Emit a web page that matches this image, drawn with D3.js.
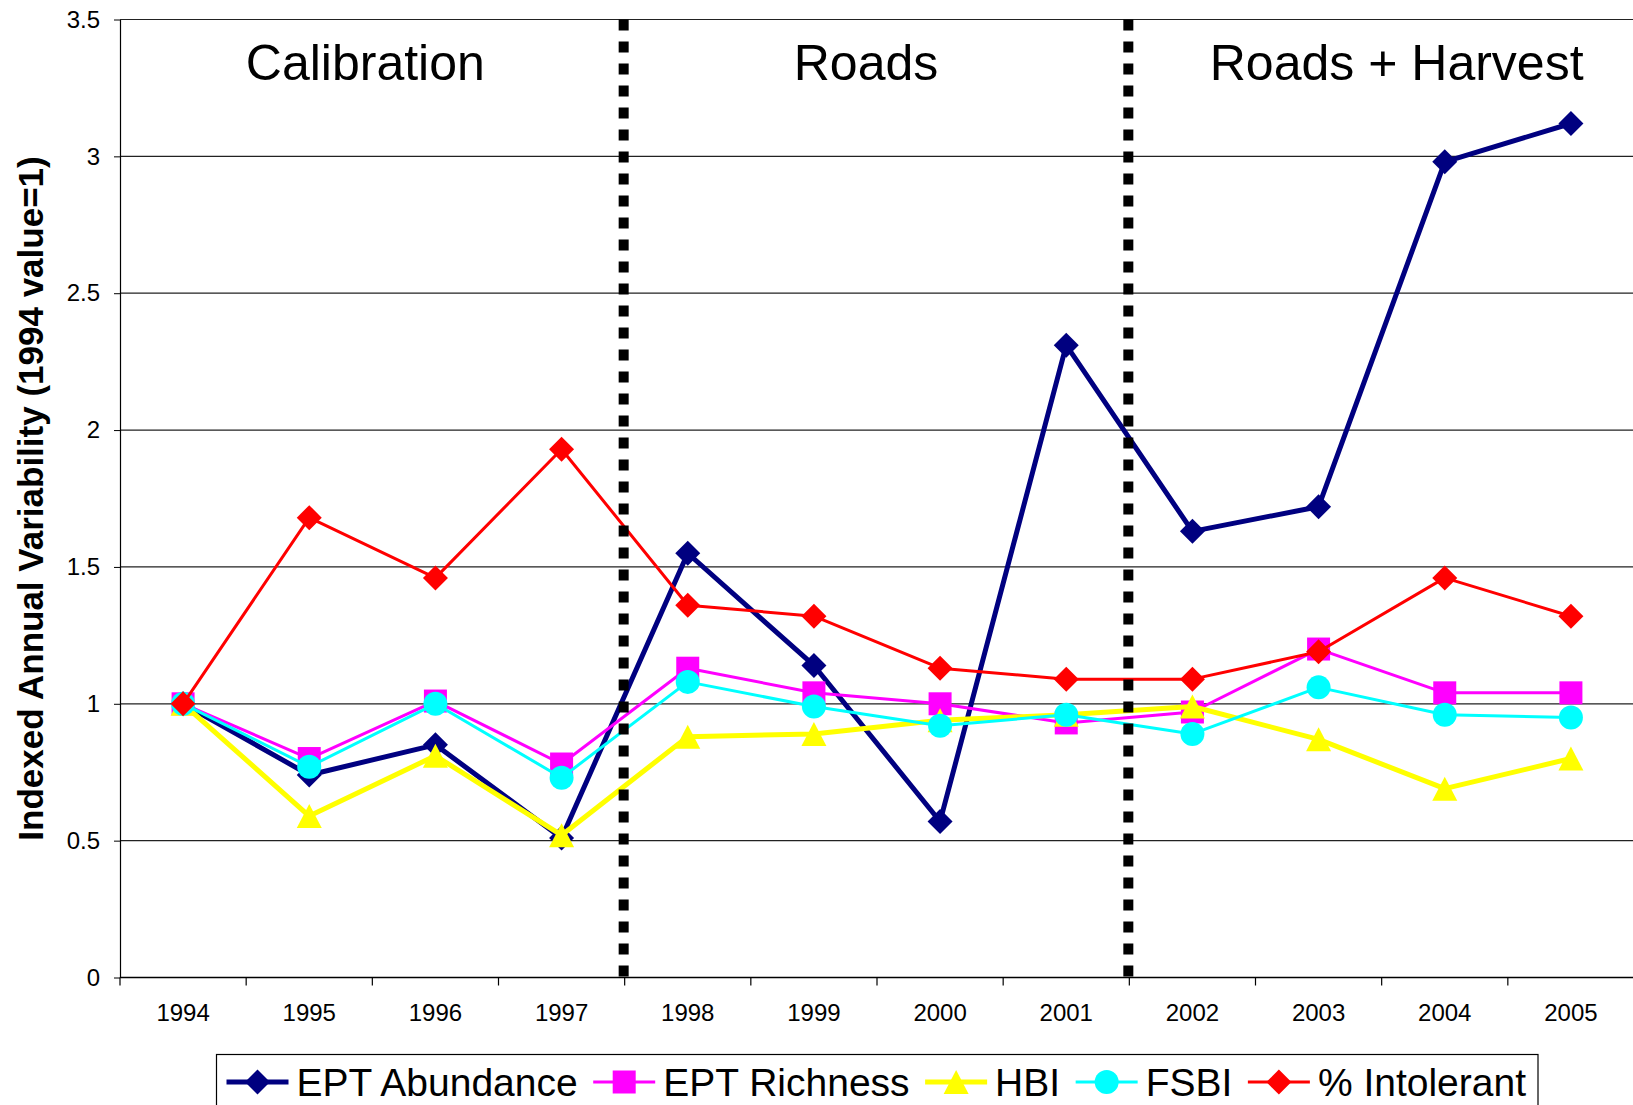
<!DOCTYPE html>
<html>
<head>
<meta charset="utf-8">
<script src="https://cdn.jsdelivr.net/npm/d3@7"></script>
<style>
    body { margin: 0; background: #fff; }
    svg text { font-family: "Liberation Sans", Arial, sans-serif; }
</style>
</head>
<body>
<div id="LineChart"></div>
<script>
// data
var years = ["1994", "1995", "1996", "1997", "1998", "1999", "2000", "2001", "2002", "2003", "2004", "2005"];
var eptAbundance = [1.00, 0.74, 0.85, 0.51, 1.55, 1.14, 0.57, 2.31, 1.63, 1.72, 2.98, 3.12];
var eptRichness = [1.00, 0.80, 1.01, 0.78, 1.13, 1.04, 1.00, 0.93, 0.97, 1.20, 1.04, 1.04];
var hbi = [1.00, 0.59, 0.81, 0.52, 0.88, 0.89, 0.94, 0.96, 0.99, 0.87, 0.69, 0.80];
var fsbi = [1.00, 0.77, 1.00, 0.73, 1.08, 0.99, 0.92, 0.96, 0.89, 1.06, 0.96, 0.95];
var intolerant = [1.00, 1.68, 1.46, 1.93, 1.36, 1.32, 1.13, 1.09, 1.09, 1.19, 1.46, 1.32];
var yTicks = [0, 0.5, 1, 1.5, 2, 2.5, 3, 3.5];
var periods = ["Calibration", "Roads", "Roads + Harvest"];
var periodStarts = ["1994", "1998", "2002"];
var periodEnds = ["1997", "2001", "2005"];

var series = [
    { name: "EPT Abundance", values: eptAbundance, color: "#000080", width: 5, shape: "diamond" },
    { name: "EPT Richness", values: eptRichness, color: "#ff00ff", width: 3, shape: "square" },
    { name: "HBI", values: hbi, color: "#ffff00", width: 5, shape: "triangle" },
    { name: "FSBI", values: fsbi, color: "#00ffff", width: 3, shape: "circle" },
    { name: "% Intolerant", values: intolerant, color: "#ff0000", width: 3, shape: "diamond" }
];

var margin = { top: 19.5, right: 0, bottom: 127.5, left: 120 },
    width = 1514,
    height = 1105 - margin.top - margin.bottom;

var svg = d3.select("#LineChart")
    .append("svg")
    .attr("width", 1633)
    .attr("height", 1105);

var chart = svg.append("g")
    .attr("transform", "translate(" + margin.left + "," + margin.top + ")");

var xScale = d3.scaleBand()
    .domain(years)
    .range([0, width])
    .padding(0);

var yScale = d3.scaleLinear()
    .domain([0, 3.5])
    .range([height, 0]);

function cx(i) { return xScale(years[i]) + xScale.bandwidth() / 2; }

function markerPath(shape) {
    if (shape == "diamond") return "M0,-12.5L12.5,0L0,12.5L-12.5,0Z";
    if (shape == "square") return "M-11.5,-11.5H11.5V11.5H-11.5Z";
    if (shape == "triangle") return "M0,-12L12.5,12H-12.5Z";
    return d3.symbol().type(d3.symbolCircle).size(Math.PI * 12 * 12)();
}

// gridlines
chart.selectAll(".grid")
    .data(yTicks)
    .enter()
    .append("line")
    .attr("class", "grid")
    .attr("x1", 0)
    .attr("x2", width)
    .attr("y1", function (d) { return yScale(d); })
    .attr("y2", function (d) { return yScale(d); })
    .attr("stroke", "#222")
    .attr("stroke-width", 1.2);

// y axis
var yAxis = chart.append("g")
    .call(d3.axisLeft(yScale).tickValues(yTicks).tickSize(6).tickSizeOuter(0).tickPadding(14).tickFormat(d3.format("")));
yAxis.select(".domain").attr("stroke", "#000").attr("stroke-width", 1.2);
yAxis.selectAll("text").attr("font-size", "24px").attr("fill", "#000").style("font-family", "Liberation Sans, Arial");

// x axis labels (centered in each category)
var xAxis = chart.append("g")
    .attr("transform", "translate(0," + height + ")")
    .call(d3.axisBottom(xScale).tickSize(0).tickPadding(26));
xAxis.select(".domain").remove();
xAxis.selectAll("text").attr("font-size", "24px").attr("fill", "#000").style("font-family", "Liberation Sans, Arial");

chart.append("line")
    .attr("x1", 0).attr("x2", width)
    .attr("y1", height).attr("y2", height)
    .attr("stroke", "#000").attr("stroke-width", 1.5);

// x ticks at category boundaries
chart.selectAll(".xtick")
    .data(d3.range(years.length + 1))
    .enter()
    .append("line")
    .attr("class", "xtick")
    .attr("x1", function (d) { return d * xScale.bandwidth(); })
    .attr("x2", function (d) { return d * xScale.bandwidth(); })
    .attr("y1", height)
    .attr("y2", height + 8)
    .attr("stroke", "#000")
    .attr("stroke-width", 1.2);

// series
series.forEach(function (s) {
    var line = d3.line()
        .x(function (d, i) { return cx(i); })
        .y(function (d) { return yScale(d); });

    chart.append("path")
        .datum(s.values)
        .attr("fill", "none")
        .attr("stroke", s.color)
        .attr("stroke-width", s.width)
        .attr("stroke-linejoin", "round")
        .attr("d", line);

    chart.selectAll(null)
        .data(s.values)
        .enter()
        .append("path")
        .attr("transform", function (d, i) { return "translate(" + cx(i) + "," + yScale(d) + ")"; })
        .attr("d", markerPath(s.shape))
        .attr("fill", s.color);
});

// period separators
chart.selectAll(".sep")
    .data(periodStarts.slice(1))
    .enter()
    .append("line")
    .attr("class", "sep")
    .attr("x1", function (d) { return xScale(d) - 1; })
    .attr("x2", function (d) { return xScale(d) - 1; })
    .attr("y1", 0)
    .attr("y2", height)
    .attr("stroke", "#000")
    .attr("stroke-width", 10)
    .attr("stroke-dasharray", "11,11");

// period labels
var nudge = [-7, -11, 15];
chart.selectAll(".period")
    .data(periods)
    .enter()
    .append("text")
    .attr("class", "period")
    .attr("x", function (d, i) {
        return (xScale(periodStarts[i]) + xScale(periodEnds[i]) + xScale.bandwidth()) / 2 + nudge[i];
    })
    .attr("y", 80 - margin.top)
    .attr("text-anchor", "middle")
    .attr("font-size", "50px")
    .text(function (d) { return d; });

// y axis title
svg.append("text")
    .attr("transform", "translate(43," + (margin.top + height / 2) + ") rotate(-90)")
    .attr("text-anchor", "middle")
    .attr("font-size", "35px")
    .attr("font-weight", "bold")
    .text("Indexed Annual Variability (1994 value=1)");

// legend: entries spread evenly across a fixed box
var legendLeft = 216.5, legendRight = 1538;
var legend = svg.append("g");
legend.append("rect")
    .attr("x", legendLeft)
    .attr("y", 1054.5)
    .attr("width", legendRight - legendLeft)
    .attr("height", 80)
    .attr("fill", "#fff")
    .attr("stroke", "#000")
    .attr("stroke-width", 1.2);

var items = series.map(function (s) {
    var g = legend.append("g");
    g.append("line")
        .attr("x1", 0).attr("x2", 62)
        .attr("stroke", s.color)
        .attr("stroke-width", s.width);
    g.append("path")
        .attr("transform", "translate(31,0)")
        .attr("d", markerPath(s.shape))
        .attr("fill", s.color);
    var t = g.append("text")
        .attr("x", 70)
        .attr("y", 14)
        .attr("font-size", "39px")
        .text(s.name);
    return { g: g, w: 70 + t.node().getComputedTextLength() };
});
var used = d3.sum(items, function (d) { return d.w; });
var gap = (legendRight - legendLeft - 10 - 12 - used) / (items.length - 1);
var lx = legendLeft + 10;
items.forEach(function (it) {
    it.g.attr("transform", "translate(" + lx + ",1082)");
    lx += it.w + gap;
});
</script>
</body>
</html>
